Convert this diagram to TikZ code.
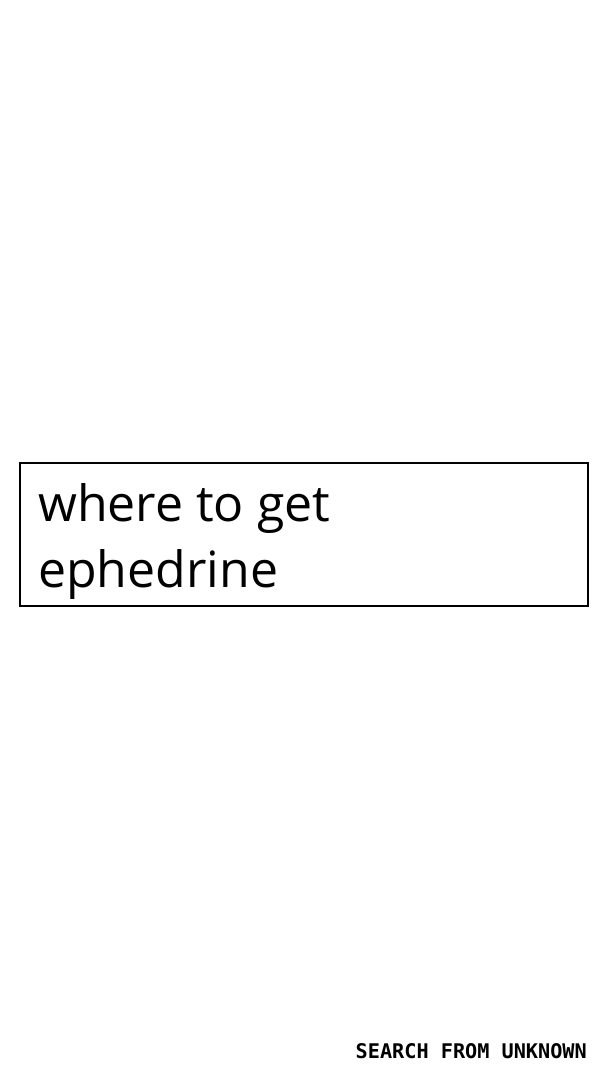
\documentclass[tikz,border=0pt]{standalone}
\usepackage{fontspec}
\setmainfont{Open Sans}
\newfontfamily\monob{DejaVu Sans Mono}
\begin{document}
\begin{tikzpicture}[x=1pt,y=1pt,
  querytext/.style={anchor=base west, inner sep=0pt, font=\fontsize{50}{66}\selectfont},
  footer/.style={anchor=base east, inner sep=0pt, font=\monob\bfseries\fontsize{20.2}{24}\selectfont}]
\useasboundingbox (0,0) rectangle (608,1080);
\fill[white] (0,0) rectangle (608,1080);
\node[draw, line width=1.5pt, minimum width=568pt, minimum height=143pt, inner sep=0pt] (box) at (304,545.5) {};
\node[querytext] (line1) at (38,558) {where to get};
\node[querytext] (line2) at (38,492) {ephedrine};
\node[footer] (brand) at (587,21) {SEARCH FROM UNKNOWN};
\end{tikzpicture}
\end{document}
